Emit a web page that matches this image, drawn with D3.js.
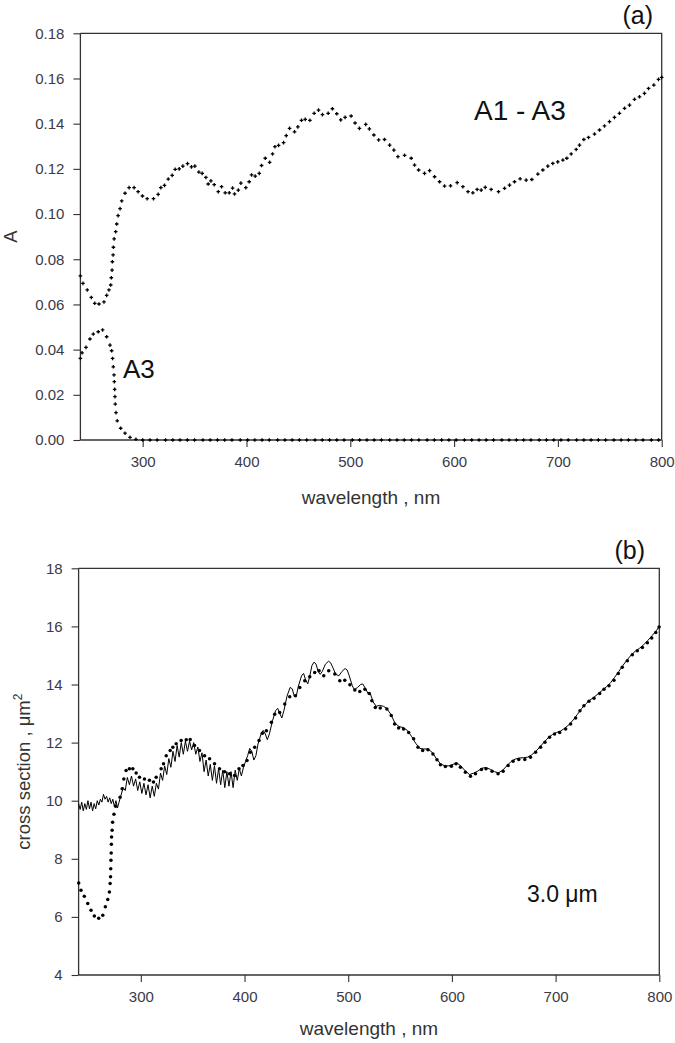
<!DOCTYPE html>
<html><head><meta charset="utf-8">
<script src="https://cdn.jsdelivr.net/npm/d3@7"></script>
<style>
body{margin:0;background:#fff;}
svg{display:block;font-family:"Liberation Sans",Arial,sans-serif;}
.tick text{fill:#3a3a48;}
</style></head>
<body>
<svg id="chart" width="675" height="1043"></svg>
<script>
// ---------- DATA ----------
const xTicks = [300, 400, 500, 600, 700, 800];
const yTicksA = [0.00, 0.02, 0.04, 0.06, 0.08, 0.10, 0.12, 0.14, 0.16, 0.18];
const yTicksB = [4, 6, 8, 10, 12, 14, 16, 18];

// panel (a): A1 - A3
const diffWave = [240,242.5,246.6,250.5,253.8,257.9,262.7,265.3,267.5,269.2,269.8,270.5,270.8,271.5,271.8,272.5,274,275,276.3,278.2,279.8,283,286.9,291.7,295.6,299.8,304.3,310.4,314.9,317.5,321,324.6,328.4,331.3,335.2,338.7,343.2,347,350.3,354.1,357.3,360.9,363.1,365.7,368.9,372.8,376,379.5,383.4,386.6,388.5,392.1,394.6,399.4,402.6,404.9,408.4,412.3,414.5,418.1,422.3,425.1,427.4,430.9,435.7,438.3,441.5,446.3,449.5,453,456.6,461.1,465.2,469.4,473.2,478.7,482.8,487,490.8,495,500.8,504.6,508.8,514.9,518.4,522.7,527.3,533,537.9,542,545.9,552.3,558.7,561.9,565.8,571.5,576.4,581.2,586,590.8,596.6,603,608.5,613.4,618.1,622.2,626.1,630,635.7,642.8,648.6,653.4,658.2,663.6,669.4,674.9,680.7,685.5,690.3,695.1,699.9,704.8,708.6,712.8,717.6,720.8,725,729.5,735.3,740.1,744.9,749.7,754.5,759.3,764.2,769,773.8,778.6,783.4,787.3,792.4,796.9,800];
const diffValue = [0.0726,0.0693,0.0664,0.0631,0.0605,0.0602,0.0611,0.064,0.0664,0.0686,0.0718,0.0752,0.0789,0.0819,0.0853,0.089,0.0922,0.0956,0.0993,0.1024,0.1058,0.1092,0.1117,0.1117,0.1099,0.108,0.1068,0.1068,0.1087,0.1117,0.1127,0.1155,0.1171,0.1198,0.12,0.1212,0.1223,0.1209,0.1212,0.1186,0.118,0.1162,0.1133,0.1147,0.113,0.1099,0.1121,0.1094,0.1094,0.1115,0.1089,0.1106,0.1137,0.1117,0.1143,0.1173,0.1168,0.118,0.1215,0.1247,0.1229,0.1266,0.1298,0.1304,0.1316,0.1347,0.1379,0.1364,0.1386,0.1415,0.1419,0.1415,0.1446,0.146,0.144,0.1446,0.1466,0.1444,0.1417,0.1428,0.1434,0.1403,0.1379,0.1397,0.1377,0.135,0.1328,0.133,0.1305,0.1283,0.1254,0.126,0.1247,0.1217,0.1195,0.118,0.1192,0.1165,0.1143,0.1124,0.1125,0.1139,0.1121,0.1099,0.1094,0.1109,0.1106,0.1118,0.1109,0.1099,0.1114,0.1128,0.1143,0.1156,0.115,0.1153,0.1177,0.1195,0.1212,0.1224,0.1231,0.1239,0.1247,0.1266,0.1286,0.1305,0.133,0.1339,0.1354,0.1372,0.139,0.1409,0.1428,0.1446,0.1468,0.1482,0.1508,0.1519,0.1534,0.1556,0.1571,0.1596,0.1605];

// panel (a): A3
const a3Wave = [240,241.6,245.4,249.2,252.4,257.2,261.4,265.3,268.5,270.1,271,271.7,272.4,272.7,273,273.3,273.6,274.3,275.5,278.8,283,287.8,293.5,300,307,314,322,329,336,343,350,358,365,372,379,386,394,401,408,415,422,430,437,444,451,458,466,473,480,487,494,502,509,516,523,530,538,545,552,559,566,574,581,588,595,602,610,617,624,631,638,646,653,660,667,674,682,689,696,703,710,718,725,732,739,746,754,761,768,775,782,790,797];
const a3Value = [0.0361,0.0386,0.041,0.0447,0.0469,0.0479,0.0487,0.0457,0.042,0.0395,0.0361,0.0324,0.0288,0.0258,0.0224,0.0192,0.0159,0.0121,0.0085,0.0052,0.003,0.0012,0.0003,0,0,0,0,0,0,0,0,0,0,0,0,0,0,0,0,0,0,0,0,0,0,0,0,0,0,0,0,0,0,0,0,0,0,0,0,0,0,0,0,0,0,0,0,0,0,0,0,0,0,0,0,0,0,0,0,0,0,0,0,0,0,0,0,0,0,0,0,0,0];

// panel (b): measured cross section (dots)
const measWave = [240.1,242.3,245.5,248.8,252,255.2,259.4,263.3,265.8,268.1,269.7,270.4,270.8,271,271.2,271.4,271.6,271.8,272.3,272.8,274.1,275.7,280,282,283.6,285.8,289,292.3,295.5,298.7,303.5,308.3,312.2,314.8,319.6,321.9,324.5,328.3,330.9,334.1,338.9,343.8,347.6,351.8,356.6,361.5,366.3,371.1,375.9,380.8,385.6,390.4,394.7,398.5,402.4,405.6,409.8,414,417.2,421.1,425.9,429.1,433.9,438.8,443.6,449.1,453.3,458.1,462.9,467.7,471.9,476.4,481.2,487.1,491.9,496.7,501.6,506.4,511.2,516.1,520.3,522.8,526.1,530.9,537.3,541.5,544.7,548.6,553.4,558.3,563.1,567.3,571.8,576.9,581.7,585.6,588.9,593.7,599.5,604,608.2,613,617.9,622.7,628.5,632.9,638.7,644.5,649.4,654.2,659,664.5,670.3,675.8,680.7,685.5,689.7,694.2,699,703.9,709.7,714.5,719.3,723.5,727.3,732.2,737,742.5,746.7,751.5,756.3,760.5,764.3,769.2,774,778.8,783.7,788.5,792.7,796.6,799.8];
const measValue = [7.17,6.92,6.71,6.46,6.23,6.03,5.95,6.06,6.35,6.6,6.86,7.15,7.38,7.66,7.95,8.2,8.5,8.75,8.98,9.26,9.53,9.81,10.12,10.41,10.75,11.04,11.1,11.1,10.95,10.81,10.75,10.7,10.64,10.81,11.1,11.27,11.55,11.73,11.84,11.96,12.07,12.1,12.11,11.9,11.73,11.55,11.44,11.27,11.1,11.0,10.93,10.87,11.1,11.21,11.38,11.67,11.84,12.07,12.32,12.41,12.7,12.98,13.04,13.33,13.58,13.61,13.9,14.13,14.27,14.41,14.47,14.3,14.47,14.36,14.13,14.15,13.99,13.81,13.76,13.84,13.69,13.44,13.21,13.19,13.16,12.93,12.64,12.5,12.47,12.35,12.13,11.84,11.73,11.75,11.61,11.41,11.24,11.18,11.19,11.27,11.15,10.98,10.84,10.93,11.07,11.1,11.01,10.93,11.01,11.21,11.36,11.42,11.42,11.5,11.67,11.84,12.01,12.18,12.3,12.35,12.47,12.64,12.85,13.1,13.27,13.42,13.53,13.69,13.84,13.96,14.15,14.38,14.59,14.82,15.02,15.16,15.27,15.44,15.6,15.79,15.98];

// panel (b): calculated cross section, 3.0 um (solid line)
const calcWave = [240,241.5,243,244.5,246,247.5,249,250.5,252,253.5,255,256.5,258,259.5,261,262.5,264,265.5,267,268.5,270,271.5,273,274.5,276,277.5,279,281,283,285,287,289,291,293,295,297,299,301,303,305,307,309,311,313,315,317,319,321,323,325,327,329,331,333,335,337,339,341,343,345,347,349,351,353,355,357,359,361,363,365,367,369,371,373,375,377,379,381,383,385,387,389,391,393,395,397,399,401,403,405,407,409,411,413,416,418,420,422,424,427,430,432,434,436,438,441,444,446,448,450,452,455,457,459,461,463,465,467,469,471,473,475,478,481,483,485,488,491,494,497,499,501,504,506,509,512,514,516,519,521,524,527,530,534,537,541,545,549,553,557,561,565,569,573,577,581,585,589,593,597,601,605,609,613,617,621,625,629,633,637,641,645,649,653,657,661,665,669,673,677,681,685,689,693,697,701,705,709,713,717,721,725,729,733,737,741,745,749,753,757,761,765,769,773,777,781,785,789,793,797,800];
const calcValue = [9.9,9.7,9.95,9.65,9.9,9.7,10.0,9.72,9.95,9.65,9.9,9.72,10.0,9.85,10.05,9.95,10.22,10.05,10.15,9.95,10.1,9.9,10.05,9.8,10.0,9.75,9.95,10.2,10.45,10.35,10.8,10.55,10.85,10.5,10.75,10.35,10.65,10.25,10.6,10.2,10.55,10.1,10.5,10.15,10.6,10.4,10.95,10.7,11.2,10.9,11.45,11.15,11.7,11.35,11.9,11.5,12.0,11.6,12.05,11.7,12.05,11.75,12.0,11.6,11.85,11.35,11.65,11.0,11.4,10.85,11.25,10.7,11.2,10.6,11.1,10.55,11.05,10.45,11.0,10.5,11.0,10.45,11.05,10.7,11.1,10.85,11.15,11.35,11.55,11.8,11.7,11.4,11.55,11.95,12.3,12.42,12.3,12.1,12.3,12.75,13.1,13.18,13.0,12.85,13.1,13.6,13.9,13.85,13.6,13.62,13.95,14.3,14.38,14.15,14.02,14.3,14.65,14.77,14.7,14.45,14.35,14.45,14.7,14.8,14.75,14.6,14.35,14.3,14.45,14.55,14.5,14.3,13.95,13.82,13.9,14.0,14.02,13.9,13.7,13.72,13.4,13.25,13.28,13.25,13.18,12.98,12.68,12.55,12.52,12.42,12.22,11.98,11.8,11.78,11.78,11.66,11.45,11.27,11.2,11.2,11.25,11.3,11.18,11.02,10.9,10.95,11.02,11.12,11.14,11.08,11.0,10.96,11.05,11.2,11.35,11.43,11.47,11.48,11.5,11.58,11.7,11.86,12.02,12.17,12.28,12.35,12.4,12.5,12.62,12.78,12.97,13.17,13.33,13.46,13.56,13.68,13.8,13.92,14.06,14.25,14.45,14.66,14.85,15.02,15.15,15.25,15.37,15.52,15.68,15.85,16.0];

// ---------- DRAW ----------
const svg = d3.select("#chart");
const axisColor = "#333";
const crossPath = "M-1.8,0H1.8M0,-1.8V1.8";

function panel(cfg) {
  const x = d3.scaleLinear().domain([240, 800]).range([cfg.left, cfg.right]);
  const y = d3.scaleLinear().domain(cfg.yDomain).range([cfg.bottom, cfg.top]);
  const g = svg.append("g");

  // frame (top + right)
  g.append("path")
    .attr("d", `M${x(240)},${y(cfg.yDomain[1])}H${x(800)}V${y(cfg.yDomain[0])}`)
    .attr("fill", "none").attr("stroke", axisColor).attr("stroke-width", 1.3);

  const xa = g.append("g").attr("transform", `translate(0,${cfg.bottom})`)
    .call(d3.axisBottom(x).tickValues(xTicks).tickSize(7).tickPadding(9).tickFormat(d3.format("d")));
  const ya = g.append("g").attr("transform", `translate(${cfg.left},0)`)
    .call(d3.axisLeft(y).tickValues(cfg.yTicks).tickSize(7).tickPadding(9).tickFormat(cfg.yFormat));
  [xa, ya].forEach(a => {
    a.select(".domain").attr("stroke", axisColor).attr("stroke-width", 1.3);
    a.selectAll(".tick line").attr("stroke", axisColor).attr("stroke-width", 1.1);
    a.selectAll(".tick text").style("font-size", "15px").style("font-family", '"Liberation Sans",Arial,sans-serif');
  });
  xa.select(".domain").attr("d", `M${x(240)},0H${x(800)}`);
  ya.select(".domain").attr("d", `M0,${y(cfg.yDomain[1])}V${y(cfg.yDomain[0])}`);

  // axis titles
  g.append("text").attr("x", (cfg.left + cfg.right) / 2).attr("y", cfg.xTitleY)
    .attr("text-anchor", "middle").attr("fill", "#333").style("font-size", "19px")
    .text("wavelength , nm");
  const yt = g.append("text")
    .attr("transform", `translate(${cfg.yTitleX},${(cfg.top + cfg.bottom) / 2}) rotate(-90)`)
    .attr("text-anchor", "middle").attr("fill", "#333").style("font-size", "18.5px");
  cfg.yTitle(yt);

  return {x, y, g};
}

// Panel (a)
const pa = panel({left: 80.4, right: 661.7, top: 33.3, bottom: 440, yDomain: [0, 0.18],
  yTicks: yTicksA, yFormat: d3.format(".2f"), xTitleY: 504, yTitleX: 17,
  yTitle: t => t.text("A")});

pa.g.append("g").selectAll("path.d").data(diffWave.map((w, i) => [w, diffValue[i]])).join("path")
  .attr("d", crossPath).attr("transform", d => `translate(${pa.x(d[0])},${pa.y(d[1])})`)
  .attr("stroke", "#000").attr("stroke-width", 1.3).attr("fill", "none");
pa.g.append("g").selectAll("path.a").data(a3Wave.map((w, i) => [w, a3Value[i]])).join("path")
  .attr("d", crossPath).attr("transform", d => `translate(${pa.x(d[0])},${pa.y(d[1])})`)
  .attr("stroke", "#000").attr("stroke-width", 1.3).attr("fill", "none");

pa.g.append("text").attr("x", 653).attr("y", 24).attr("text-anchor", "end")
  .style("font-size", "25px").attr("fill", "#111").text("(a)");
pa.g.append("text").attr("x", 474).attr("y", 119.5)
  .style("font-size", "28px").attr("fill", "#111").text("A1 - A3");
pa.g.append("text").attr("x", 123).attr("y", 378)
  .style("font-size", "26px").attr("fill", "#111").text("A3");

// Panel (b)
const pb = panel({left: 78.6, right: 659.3, top: 568.3, bottom: 975, yDomain: [4, 18],
  yTicks: yTicksB, yFormat: d3.format("d"), xTitleY: 1035, yTitleX: 30,
  yTitle: t => { t.append("tspan").text("cross section , \u03bcm");
                 t.append("tspan").attr("dy", -8).style("font-size", "12px").text("2"); }});

const line = d3.line().x(d => pb.x(d[0])).y(d => pb.y(d[1]));
pb.g.append("path").datum(calcWave.map((w, i) => [w, calcValue[i]]))
  .attr("d", line).attr("fill", "none").attr("stroke", "#000").attr("stroke-width", 1);
pb.g.append("g").selectAll("circle").data(measWave.map((w, i) => [w, measValue[i]])).join("circle")
  .attr("cx", d => pb.x(d[0])).attr("cy", d => pb.y(d[1])).attr("r", 1.75).attr("fill", "#000");

pb.g.append("text").attr("x", 645).attr("y", 559).attr("text-anchor", "end")
  .style("font-size", "25px").attr("fill", "#111").text("(b)");
pb.g.append("text").attr("x", 527).attr("y", 901.5)
  .style("font-size", "23px").attr("fill", "#111").text("3.0 \u03bcm");
</script>
</body></html>
